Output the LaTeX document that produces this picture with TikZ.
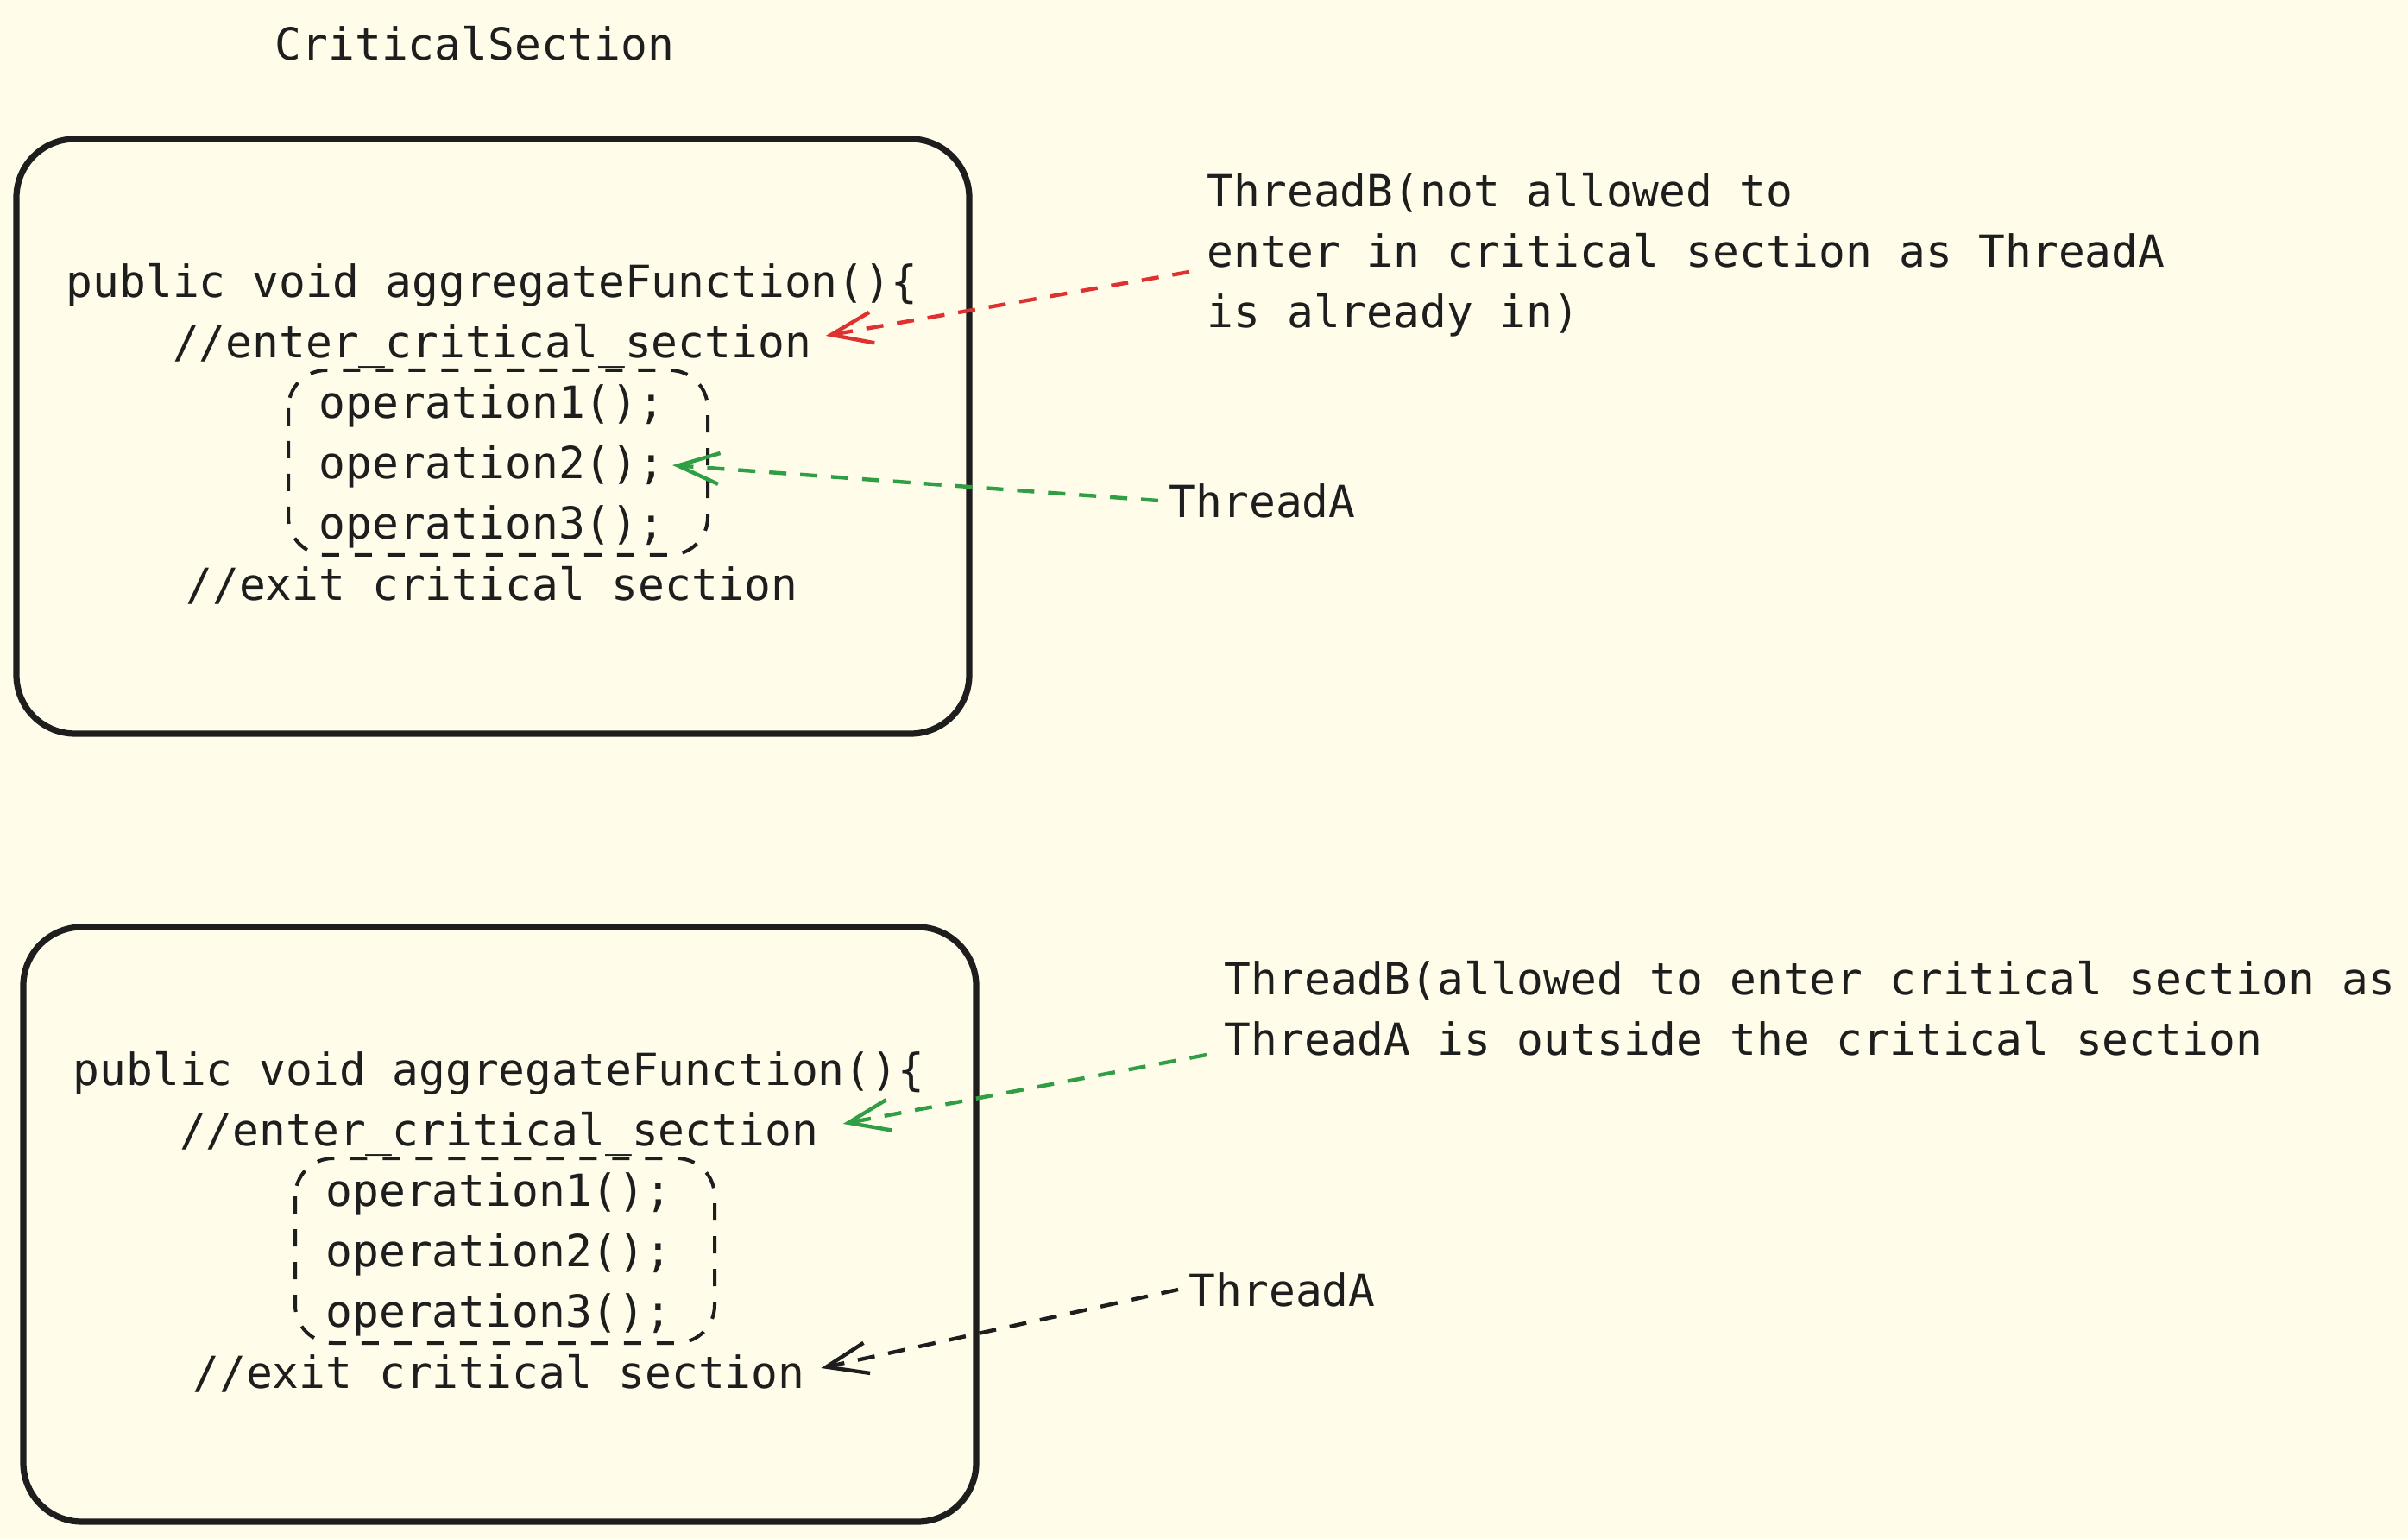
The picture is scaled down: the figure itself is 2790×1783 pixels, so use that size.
\documentclass[tikz,border=0pt]{standalone}
\usepackage{fontspec}
\setmonofont{DejaVu Sans Mono}
\usetikzlibrary{arrows.meta}
\definecolor{paper}{HTML}{FFFDE9}
\definecolor{ink}{HTML}{1E1E1E}
\definecolor{redline}{HTML}{E03131}
\definecolor{greenline}{HTML}{2F9E44}

\begin{document}
\begin{tikzpicture}[x=0.25pt, y=-0.25pt,
  txt/.style={text=ink, font=\ttfamily\fontsize{12.8}{17.5}\selectfont, inner sep=3pt},
  codeline/.style={txt, text height=11pt, text depth=2.3pt},
  note/.style={txt, align=left, anchor=west},
  bigbox/.style={draw=ink, line width=1.8pt, rounded corners=17pt},
  opbox/.style={draw=ink, line width=1pt, dash pattern=on 5pt off 4.5pt, rounded corners=11pt},
  link/.style={line width=1.1pt, dash pattern=on 5pt off 4pt, -{Straight Barb[length=12pt,width=9pt,line width=1.1pt]}}]
\fill[paper] (0,0) rectangle (2790,1783);
\useasboundingbox (0,0) rectangle (2790,1783);

\node[txt] (title) at (550,50) {CriticalSection};

% the two copies of the function
\foreach \n/\dx/\dy in {one/0/0, two/8/913}{
\begin{scope}[shift={(\dx,\dy)}]
\draw[bigbox] (19,161) rectangle (1123,850);
\draw[opbox] (334,429) rectangle (820,643);
\node[codeline] (pub\n) at (570,327) {public void aggregateFunction()\{};
\node[codeline] (enter\n) at (570,397) {//enter\_critical\_section};
\foreach \k in {1,2,3}
  \node[codeline] (op\k\n) at (570,{397+70*\k}) {operation\k();};
\node[codeline] (exit\n) at (570,678) {//exit critical section};
\end{scope}
}

\node[note] (tbone) at (1386,295) {ThreadB(not allowed to\\enter in critical section as ThreadA\\is already in)};
\node[note] (taone) at (1342,580) {ThreadA};
\node[note] (tbtwo) at (1406,1168) {ThreadB(allowed to enter critical section as\\ThreadA is outside the critical section};
\node[note] (tatwo) at (1365,1494) {ThreadA};

\draw[link, redline] ([xshift=-2pt,yshift=-5pt]tbone.west) -- ([xshift=1pt,yshift=2pt]enterone.east);
\draw[link, greenline] (taone.west) -- ([xshift=-1pt,yshift=-0.5pt]op2one.east);
\draw[link, greenline] ([xshift=-2pt,yshift=-13.5pt]tbtwo.west) -- ([xshift=4pt,yshift=2pt]entertwo.east);
\draw[link, ink] (tatwo.west) -- ([xshift=1.5pt,yshift=1.5pt]exittwo.east);
\end{tikzpicture}
\end{document}
